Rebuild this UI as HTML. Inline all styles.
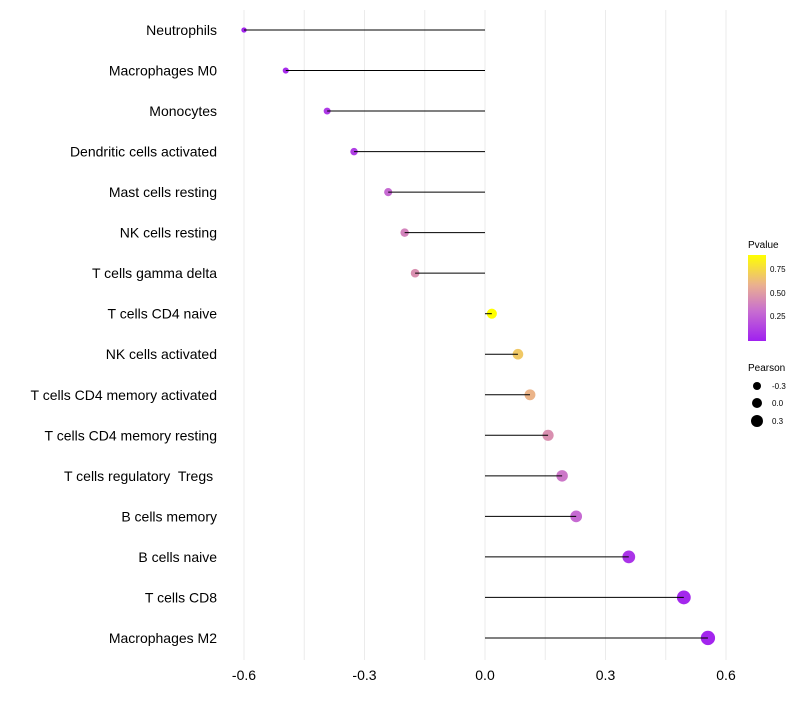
<!DOCTYPE html>
<html><head><meta charset="utf-8"><style>
body{margin:0;background:#fff;font-family:"Liberation Sans",sans-serif}
text{white-space:pre}
</style></head><body>
<svg id="chart" width="800" height="700" xmlns="http://www.w3.org/2000/svg">
<defs><linearGradient id="pg" x1="0" y1="1" x2="0" y2="0">
<stop offset="0" stop-color="#a020f0"/><stop offset="0.35" stop-color="#c86ed0"/><stop offset="0.65" stop-color="#eab090"/><stop offset="1" stop-color="#ffff00"/>
</linearGradient></defs>
<g id="grid"></g><g id="marks"></g><g id="stems"></g><g id="labels"></g>
<g font-size="10">
<text x="748" y="248" fill="#000">Pvalue</text>
<rect x="748" y="255" width="18" height="86" fill="url(#pg)"/>
<text x="770" y="272" font-size="8">0.75</text>
<text x="770" y="296" font-size="8">0.50</text>
<text x="770" y="319" font-size="8">0.25</text>
</g>
<g font-size="10">
<text x="748" y="371">Pearson</text>
<circle cx="757" cy="386" r="4"/><text x="772" y="389" font-size="8">-0.3</text>
<circle cx="757" cy="403" r="5"/><text x="772" y="406" font-size="8">0.0</text>
<circle cx="757" cy="421" r="6"/><text x="772" y="424" font-size="8">0.3</text>
</g>
</svg>
<script>
const cells=["Neutrophils","Macrophages M0","Monocytes","Dendritic cells activated","Mast cells resting","NK cells resting","T cells gamma delta","T cells CD4 naive","NK cells activated","T cells CD4 memory activated","T cells CD4 memory resting","T cells regulatory  Tregs ","B cells memory","B cells naive","T cells CD8","Macrophages M2"];
const pearson=[-0.6,-0.496,-0.393,-0.326,-0.241,-0.2,-0.174,0.017,0.082,0.112,0.157,0.192,0.227,0.358,0.495,0.555];
const pvalue=[0.02,0.05,0.1,0.12,0.3,0.4,0.45,0.9,0.68,0.6,0.45,0.35,0.3,0.08,0.03,0.02];
const xticks=[-0.6,-0.3,0,0.3,0.6];
const ns="http://www.w3.org/2000/svg";
const x=v=>485+v*401.67, y=i=>30+i*40.53;
function col(p){const t=Math.max(0,Math.min(1,p/0.9));const st=[[0,[160,32,240]],[0.35,[200,110,208]],[0.65,[234,176,144]],[1,[255,255,0]]];
for(let k=0;k<3;k++){const[a,c1]=st[k],[b,c2]=st[k+1];if(t<=b){const f=(t-a)/(b-a);return`rgb(${c1.map((c,j)=>Math.round(c+(c2[j]-c)*f)).join(",")})`;}}}
function mk(tag,at,par){const e=document.createElementNS(ns,tag);for(const k in at)e.setAttribute(k,at[k]);document.getElementById(par).appendChild(e);return e;}
for(let v=-0.6;v<=0.601;v+=0.15){const g=mk("line",{x1:x(v),x2:x(v),y1:10,y2:660,stroke:"#ebebeb","stroke-width":1},"grid");

}
xticks.forEach(v=>{const t=mk("text",{x:x(v),y:680,"text-anchor":"middle","font-size":14,fill:"#000"},"labels");t.textContent=v===0?"0.0":v.toFixed(1);

});
cells.forEach((c,i)=>{
const l=mk("line",{x1:x(0),x2:x(pearson[i]),y1:y(i),y2:y(i),stroke:"#000","stroke-width":1},"stems");


const d=mk("circle",{cx:x(pearson[i]),cy:y(i),r:5+3.5*pearson[i]*1.3*0.85,fill:col(pvalue[i])},"marks");


const t=mk("text",{x:217,y:y(i)+5,"text-anchor":"end","font-size":14,fill:"#000"},"labels");t.textContent=c;


});
</script>
</body></html>
